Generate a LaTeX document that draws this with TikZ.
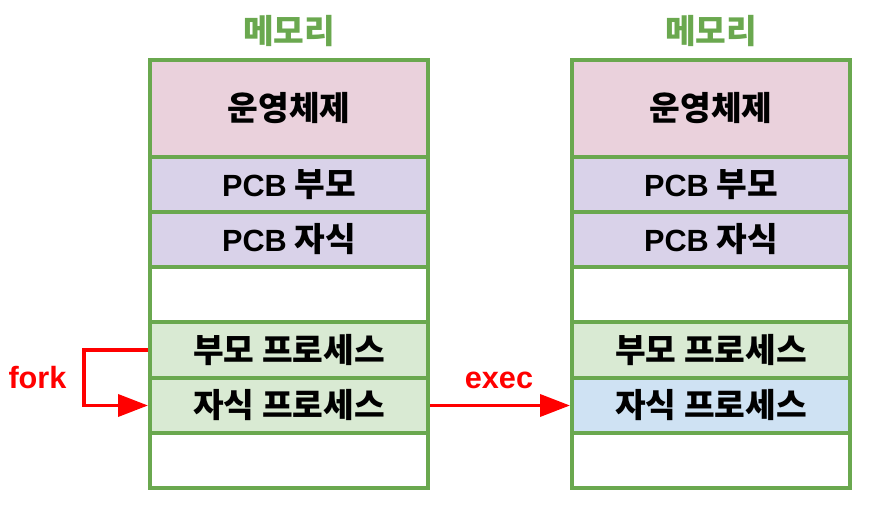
\documentclass[tikz,border=0pt]{standalone}
\usepackage{fontspec}
\setmainfont{Liberation Sans}
\newfontfamily\kr{Noto Sans CJK KR}
\newfontfamily\latb{Liberation Sans Bold}
\usetikzlibrary{arrows.meta}
\definecolor{grn}{HTML}{6AA84F}
\definecolor{pinkf}{HTML}{EAD1DC}
\definecolor{purpf}{HTML}{D9D2E9}
\definecolor{grnf}{HTML}{D9EAD3}
\definecolor{bluef}{HTML}{CFE2F3}
\definecolor{redl}{HTML}{FF0000}
\newcommand{\pcb}{{\latb\fontsize{23}{27}\selectfont PCB}}
\begin{document}
\begin{tikzpicture}[x=0.75pt,y=-0.75pt,
  cell/.style={draw=grn, line width=3pt, minimum width=208.5pt, inner sep=0pt,
    font=\fontsize{25}{29}\selectfont\bfseries\kr},
  rowh/.style={minimum height=#1*0.75pt},
  titlet/.style={text=grn, font=\fontsize{25}{29}\selectfont\bfseries\kr, inner sep=0pt},
  lbl/.style={text=redl, font=\fontsize{23}{27}\selectfont\latb, inner sep=0pt},
  arr/.style={draw=redl, line width=2.8pt, -{Triangle[length=22.5pt,width=16.5pt]}}]
\useasboundingbox (0,0) rectangle (869,509);
% left memory
\node[titlet] (t1) at (289,31) {메모리};
\node[cell, rowh=97, fill=pinkf] (os1) at (289,108.5) {운영체제};
\node[cell, rowh=55, fill=purpf] (pp1) at (289,184.5) {\pcb{} 부모};
\node[cell, rowh=55, fill=purpf] (pc1) at (289,239.5) {\pcb{} 자식};
\node[cell, rowh=55, fill=white] (b1) at (289,294.5) {};
\node[cell, rowh=56, fill=grnf] (par1) at (289,350) {부모 프로세스};
\node[cell, rowh=55, fill=grnf] (ch1) at (289,405.5) {자식 프로세스};
\node[cell, rowh=55, fill=white] (e1) at (289,460.5) {};
% right memory
\node[titlet] (t2) at (711,31) {메모리};
\node[cell, rowh=97, fill=pinkf] (os2) at (711,108.5) {운영체제};
\node[cell, rowh=55, fill=purpf] (pp2) at (711,184.5) {\pcb{} 부모};
\node[cell, rowh=55, fill=purpf] (pc2) at (711,239.5) {\pcb{} 자식};
\node[cell, rowh=55, fill=white] (b2) at (711,294.5) {};
\node[cell, rowh=56, fill=grnf] (par2) at (711,350) {부모 프로세스};
\node[cell, rowh=55, fill=bluef] (ch2) at (711,405.5) {자식 프로세스};
\node[cell, rowh=55, fill=white] (e2) at (711,460.5) {};
% arrows
\coordinate (fk) at (84,350);
\draw[arr] (par1.west) -- (fk) |- (ch1.west);
\draw[arr] (ch1.east) -- (ch2.west);
\node[lbl, anchor=base] (forkl) at (37.5,389) {fork};
\node[lbl, anchor=base] (execl) at (499,389) {exec};
\end{tikzpicture}
\end{document}
